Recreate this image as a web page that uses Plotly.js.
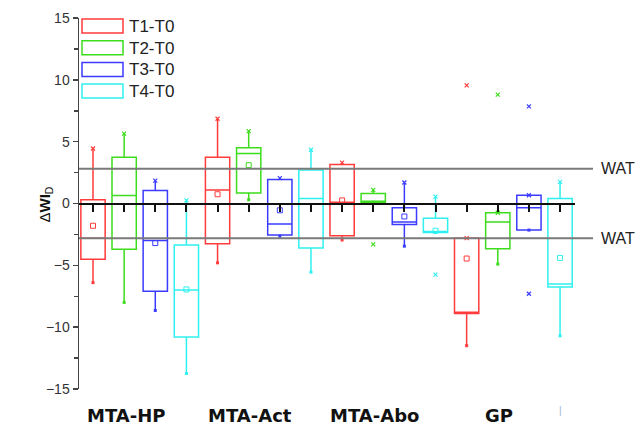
<!DOCTYPE html>
<html>
<head>
<meta charset="utf-8">
<script src="https://cdn.plot.ly/plotly-3.0.1.min.js"></script>
<style>html,body{margin:0;padding:0;background:#fff;}#chart{width:641px;height:436px;}</style>
</head>
<body>
<div id="chart"></div>
<script>
// ---- data ----
var groups = ['MTA-HP', 'MTA-Act', 'MTA-Abo', 'GP'];
var seriesNames = ['T1-T0', 'T2-T0', 'T3-T0', 'T4-T0'];
var seriesColors = ['#ff3b3b', '#3ddc1c', '#3b3bff', '#2ff0f0'];

var t1Q1 = [-4.5, -3.25, -2.6, -8.9];
var t1Median = [-2.8, 1.1, 0.1, -8.8];
var t1Q3 = [0.3, 3.75, 3.15, -2.8];
var t1Low = [-6.4, -4.8, -2.95, -11.5];
var t1High = [4.45, 6.85, 3.3, -2.8];
var t1Mean = [-1.8, 0.75, 0.25, -4.45];
var t1OutGroup = [3];
var t1OutVal = [9.55];

var t2Q1 = [-3.7, 0.85, 0.1, -3.65];
var t2Median = [0.65, 4.05, 0.1, -1.5];
var t2Q3 = [3.75, 4.5, 0.8, -0.75];
var t2Low = [-8.0, 0.3, 0.1, -4.9];
var t2High = [5.65, 5.85, 1.1, -0.75];
var t2Mean = [null, 3.1, null, null];
var t2OutGroup = [2, 3];
var t2OutVal = [-3.3, 8.8];

var t3Q1 = [-7.1, -2.55, -1.7, -2.15];
var t3Median = [-3.0, -1.65, -1.5, -0.35];
var t3Q3 = [1.05, 1.95, -0.35, 0.67];
var t3Low = [-8.65, -2.65, -3.45, -2.15];
var t3High = [1.85, 2.05, 1.7, 0.67];
var t3Mean = [-3.2, -0.55, -1.05, null];
var t3OutGroup = [3, 3];
var t3OutVal = [7.85, -7.3];

var t4Q1 = [-10.8, -3.6, -2.35, -6.75];
var t4Median = [-7.0, 0.4, -2.3, -6.5];
var t4Q3 = [-3.35, 2.7, -1.2, 0.4];
var t4Low = [-13.75, -5.55, -2.35, -10.7];
var t4High = [0.25, 4.35, 0.55, 1.75];
var t4Mean = [-6.95, null, -2.2, -4.4];
var t4OutGroup = [2];
var t4OutVal = [-5.75];

var watLevels = [2.8, -2.8];
var watLabel = 'WAT';
var yTitle = '\u0394<b>WI</b><sub>D</sub>';

// ---- build ----
var series = [
  {q1: t1Q1, med: t1Median, q3: t1Q3, lo: t1Low, hi: t1High, mean: t1Mean, og: t1OutGroup, ov: t1OutVal},
  {q1: t2Q1, med: t2Median, q3: t2Q3, lo: t2Low, hi: t2High, mean: t2Mean, og: t2OutGroup, ov: t2OutVal},
  {q1: t3Q1, med: t3Median, q3: t3Q3, lo: t3Low, hi: t3High, mean: t3Mean, og: t3OutGroup, ov: t3OutVal},
  {q1: t4Q1, med: t4Median, q3: t4Q3, lo: t4Low, hi: t4High, mean: t4Mean, og: t4OutGroup, ov: t4OutVal}
];
var nS = seriesNames.length;
function pos(g, s) { return g * nS + s; }

var traces = [];
var allPos = [];
groups.forEach(function (g, gi) { for (var s = 0; s < nS; s++) allPos.push(pos(gi, s)); });

series.forEach(function (d, s) {
  var xs = groups.map(function (g, gi) { return pos(gi, s); });
  var col = seriesColors[s];
  traces.push({
    type: 'box', name: seriesNames[s], x: xs,
    q1: d.q1, median: d.med, q3: d.q3, lowerfence: d.lo, upperfence: d.hi,
    boxpoints: false, width: 0.78, whiskerwidth: 0,
    line: {color: col, width: 1.5}, fillcolor: 'rgba(0,0,0,0)',
    showlegend: false, hoverinfo: 'skip'
  });
  traces.push({
    type: 'scatter', mode: 'markers', x: xs, y: d.hi, showlegend: false, hoverinfo: 'skip',
    marker: {symbol: 'x-thin-open', size: 4, color: col, line: {color: col, width: 1.2}}
  });
  traces.push({
    type: 'scatter', mode: 'markers', x: xs, y: d.lo, showlegend: false, hoverinfo: 'skip',
    marker: {symbol: 'square', size: 3, color: col}
  });
  traces.push({
    type: 'scatter', mode: 'markers', x: xs, y: d.mean, showlegend: false, hoverinfo: 'skip',
    marker: {symbol: 'square-open', size: 5, color: col, line: {width: 1}}
  });
  traces.push({
    type: 'scatter', mode: 'markers',
    x: d.og.map(function (gi) { return pos(gi, s); }), y: d.ov,
    showlegend: false, hoverinfo: 'skip',
    marker: {symbol: 'x-thin-open', size: 4, color: col, line: {color: col, width: 1.2}}
  });
});

var plotL = 79, plotR = 575, plotT = 18, plotB = 389;
var W = 641, H = 436;
function px2x(px) { return (px - plotL) / (plotR - plotL); }
function py2y(py) { return (plotB - py) / (plotB - plotT); }

var shapes = [];
var annotations = [];
watLevels.forEach(function (v) {
  shapes.push({type: 'line', xref: 'paper', yref: 'y', x0: 0, x1: px2x(593), y0: v, y1: v,
    line: {color: '#7a7a7a', width: 2}});
  annotations.push({xref: 'paper', yref: 'y', x: px2x(599), y: v, xanchor: 'left', yanchor: 'middle',
    text: watLabel, showarrow: false, font: {family: 'Liberation Sans, Arial', size: 16, color: '#222'}});
});

// custom legend
seriesNames.forEach(function (n, s) {
  var top = 19 + s * 21.7;
  shapes.push({type: 'rect', xref: 'paper', yref: 'paper', x0: px2x(82), x1: px2x(123),
    y0: py2y(top), y1: py2y(top + 14), line: {color: seriesColors[s], width: 1.5}, fillcolor: 'rgba(0,0,0,0)'});
  annotations.push({xref: 'paper', yref: 'paper', x: px2x(127), y: py2y(top + 7.5), xanchor: 'left', yanchor: 'middle',
    text: n, showarrow: false, font: {family: 'Liberation Sans, Arial', size: 17, color: '#222'}});
});

// group labels (under the second box of each group)
groups.forEach(function (g, gi) {
  annotations.push({xref: 'x', yref: 'paper', x: pos(gi, 1) + 0.05, y: py2y(415), xanchor: 'center', yanchor: 'middle',
    text: '<b>' + g + '</b>', showarrow: false, font: {family: 'DejaVu Sans', size: 18, color: '#111'}});
});
annotations.push({xref: 'x', yref: 'paper', x: pos(3, 3), y: py2y(418), text: '|', showarrow: false,
  font: {family: 'Liberation Sans', size: 10, color: '#9fb4cf'}});

annotations.push({xref: 'paper', yref: 'paper', x: px2x(33), y: py2y(205), textangle: -90,
  text: yTitle, showarrow: false, font: {family: 'Liberation Sans, Arial', size: 15, color: '#111'}});

var layout = {
  width: W, height: H,
  margin: {l: plotL, r: W - plotR, t: plotT, b: H - plotB},
  paper_bgcolor: '#fff', plot_bgcolor: '#fff',
  showlegend: false,
  xaxis: {
    type: 'linear', range: [-0.45, 15.48], anchor: 'free', position: 0.5,
    showline: true, linecolor: '#111', linewidth: 2,
    ticks: 'outside', tickvals: allPos, ticklen: 7, tickwidth: 2, tickcolor: '#111',
    showticklabels: false, showgrid: false, zeroline: false
  },
  yaxis: {
    range: [-15, 15], dtick: 5, tick0: 0,
    showline: true, linecolor: '#444', linewidth: 1.5,
    ticks: 'outside', ticklen: 5, tickwidth: 1.5, tickcolor: '#444',
    minor: {ticks: 'outside', dtick: 2.5, ticklen: 4, tickwidth: 1.5, tickcolor: '#444', showgrid: false},
    tickfont: {family: 'Liberation Sans, Arial', size: 14, color: '#333'},
    showgrid: false, zeroline: false
  },
  shapes: shapes,
  annotations: annotations
};

Plotly.newPlot('chart', traces, layout, {staticPlot: true, displayModeBar: false});
</script>
</body>
</html>
